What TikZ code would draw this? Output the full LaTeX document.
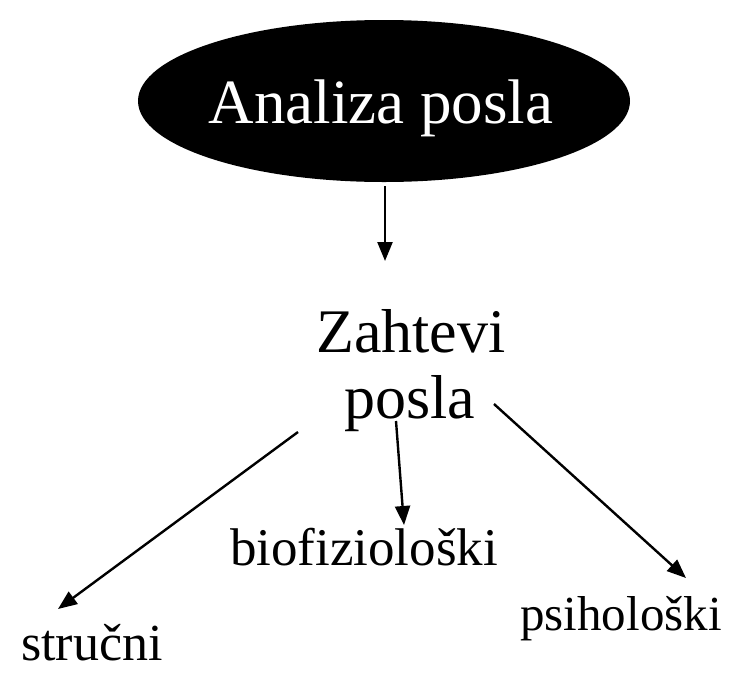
\documentclass[tikz,border=0pt]{standalone}
\usepackage{fontspec}
\setmainfont{Liberation Serif}
\usetikzlibrary{arrows.meta,shapes.geometric}
\begin{document}
\begin{tikzpicture}[x=1pt,y=-1pt,
  conn/.style={line width=2.4pt,-{Triangle[length=19pt,width=15pt]}},
  lbl/.style={anchor=base,inner sep=0pt}]
\useasboundingbox (0,0) rectangle (730,675);
\node[ellipse,fill=black,minimum width=492pt,minimum height=162pt,inner sep=0pt] (ell) at (384,101) {};
\node[lbl,text=white,font=\fontsize{63}{70}\selectfont] (title) at (381,123) {Analiza posla};
\node[lbl,font=\fontsize{62}{68}\selectfont] (z1) at (411,352) {Zahtevi};
\node[lbl,font=\fontsize{62}{68}\selectfont] (z2) at (410,418) {posla};
\node[lbl,font=\fontsize{53}{60}\selectfont] (bio) at (364,565) {biofiziološki};
\node[lbl,font=\fontsize{52}{60}\selectfont] (str) at (92,660) {stručni};
\node[lbl,font=\fontsize{49}{56}\selectfont] (psi) at (621,630) {psihološki};
\coordinate (a1s) at (385,186);
\coordinate (a1e) at (385,261);
\coordinate (l1) at (298,432);
\coordinate (l2) at (58,609);
\coordinate (m1) at (396,421);
\coordinate (m2) at (404,525);
\coordinate (r1) at (494,404);
\coordinate (r2) at (686,578);
\draw[conn] (a1s) -- (a1e);
\draw[conn] (l1) -- (l2);
\draw[conn] (m1) -- (m2);
\draw[conn] (r1) -- (r2);
\end{tikzpicture}
\end{document}
